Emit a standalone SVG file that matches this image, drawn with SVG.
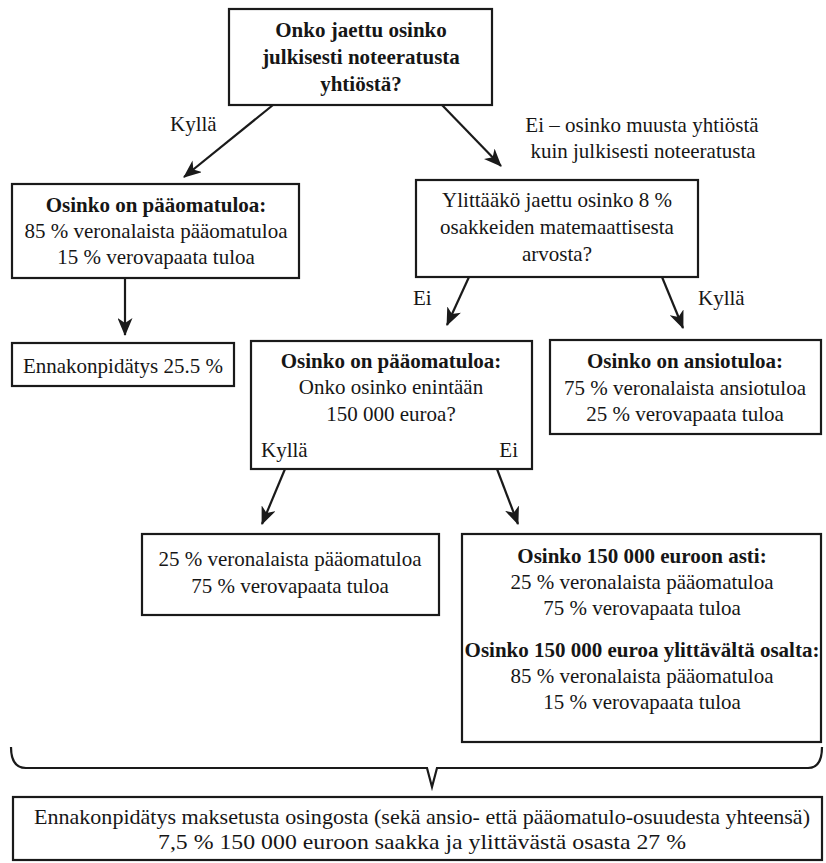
<svg xmlns="http://www.w3.org/2000/svg" width="826" height="863" viewBox="0 0 826 863">
<style>
.box{fill:#ffffff;stroke:#1a1a1a;stroke-width:2.2}
text{font-family:"Liberation Serif","Times New Roman",serif;font-size:21px;fill:#161616}
.c{text-anchor:middle}
.b{font-weight:bold}
.con{stroke:#1a1a1a;stroke-width:2.2;fill:none}
</style>
<defs>
<marker id="ah" viewBox="0 0 18 15" refX="17" refY="7.5" markerWidth="18" markerHeight="15" markerUnits="userSpaceOnUse" orient="auto">
<path d="M0,0 L18,7.5 L0,15 L5,7.5 z" fill="#1a1a1a"/>
</marker>
</defs>
<rect width="826" height="863" fill="#ffffff"/>

<g id="connectors">
<line class="con" x1="273" y1="105" x2="184" y2="177" marker-end="url(#ah)"/>
<line class="con" x1="442" y1="105" x2="501" y2="166" marker-end="url(#ah)"/>
<line class="con" x1="125" y1="278" x2="125" y2="335" marker-end="url(#ah)"/>
<line class="con" x1="469" y1="277" x2="447" y2="325" marker-end="url(#ah)"/>
<line class="con" x1="662" y1="277" x2="683" y2="328" marker-end="url(#ah)"/>
<line class="con" x1="285" y1="469" x2="262" y2="524" marker-end="url(#ah)"/>
<line class="con" x1="497" y1="469" x2="518" y2="524" marker-end="url(#ah)"/>
<path class="con" stroke-width="1.6" d="M11,747 Q11,768 26,768 L427,768 L432,787 L437,768 L808,768 Q822,768 822,747"/>
<text x="170" y="131">Kyllä</text>
<text class="c" x="642" y="132">Ei – osinko muusta yhtiöstä</text>
<text class="c" x="643" y="158">kuin julkisesti noteeratusta</text>
<text x="413" y="305">Ei</text>
<text x="698" y="305">Kyllä</text>
</g>

<g id="n-top">
<rect class="box" x="229" y="9" width="263" height="96"/>
<text class="c b" x="361" y="37">Onko jaettu osinko</text>
<text class="c b" x="361" y="64">julkisesti noteeratusta</text>
<text class="c b" x="361" y="91">yhtiöstä?</text>
</g>

<g id="n-listed">
<rect class="box" x="12" y="184" width="287" height="94"/>
<text class="c b" x="156" y="212">Osinko on pääomatuloa:</text>
<text class="c" x="156" y="238">85 % veronalaista pääomatuloa</text>
<text class="c" x="156" y="264">15 % verovapaata tuloa</text>
</g>

<g id="n-withholding-listed">
<rect class="box" x="12" y="343" width="222" height="43"/>
<text class="c" x="123" y="373">Ennakonpidätys 25.5 %</text>
</g>

<g id="n-exceeds">
<rect class="box" x="416" y="180" width="282" height="97"/>
<text class="c" x="557" y="207">Ylittääkö jaettu osinko 8 %</text>
<text class="c" x="557" y="234">osakkeiden matemaattisesta</text>
<text class="c" x="557" y="261">arvosta?</text>
</g>

<g id="n-capital">
<rect class="box" x="251" y="341" width="281" height="128"/>
<text class="c b" x="391" y="368">Osinko on pääomatuloa:</text>
<text class="c" x="391" y="394">Onko osinko enintään</text>
<text class="c" x="391" y="421">150 000 euroa?</text>
<text x="261" y="457">Kyllä</text>
<text x="518" y="457" text-anchor="end">Ei</text>
</g>

<g id="n-earned">
<rect class="box" x="550" y="340" width="271" height="94"/>
<text class="c b" x="685" y="368">Osinko on ansiotuloa:</text>
<text class="c" x="685" y="395">75 % veronalaista ansiotuloa</text>
<text class="c" x="685" y="421">25 % verovapaata tuloa</text>
</g>

<g id="n-under">
<rect class="box" x="142" y="534" width="297" height="81"/>
<text class="c" x="290" y="566">25 % veronalaista pääomatuloa</text>
<text class="c" x="290" y="593">75 % verovapaata tuloa</text>
</g>

<g id="n-over">
<rect class="box" x="462" y="534" width="359" height="208"/>
<text class="c b" x="642" y="563">Osinko 150 000 euroon asti:</text>
<text class="c" x="642" y="589">25 % veronalaista pääomatuloa</text>
<text class="c" x="642" y="615">75 % verovapaata tuloa</text>
<text class="c b" x="642" y="657">Osinko 150 000 euroa ylittävältä osalta:</text>
<text class="c" x="642" y="683">85 % veronalaista pääomatuloa</text>
<text class="c" x="642" y="709">15 % verovapaata tuloa</text>
</g>

<g id="n-withholding">
<rect class="box" x="13" y="797" width="809" height="63"/>
<text class="c" x="422" y="824" textLength="776" lengthAdjust="spacingAndGlyphs">Ennakonpidätys maksetusta osingosta (sekä ansio- että pääomatulo-osuudesta yhteensä)</text>
<text class="c" x="422" y="849" textLength="528" lengthAdjust="spacingAndGlyphs">7,5 % 150 000 euroon saakka ja ylittävästä osasta 27 %</text>
</g>
</svg>
